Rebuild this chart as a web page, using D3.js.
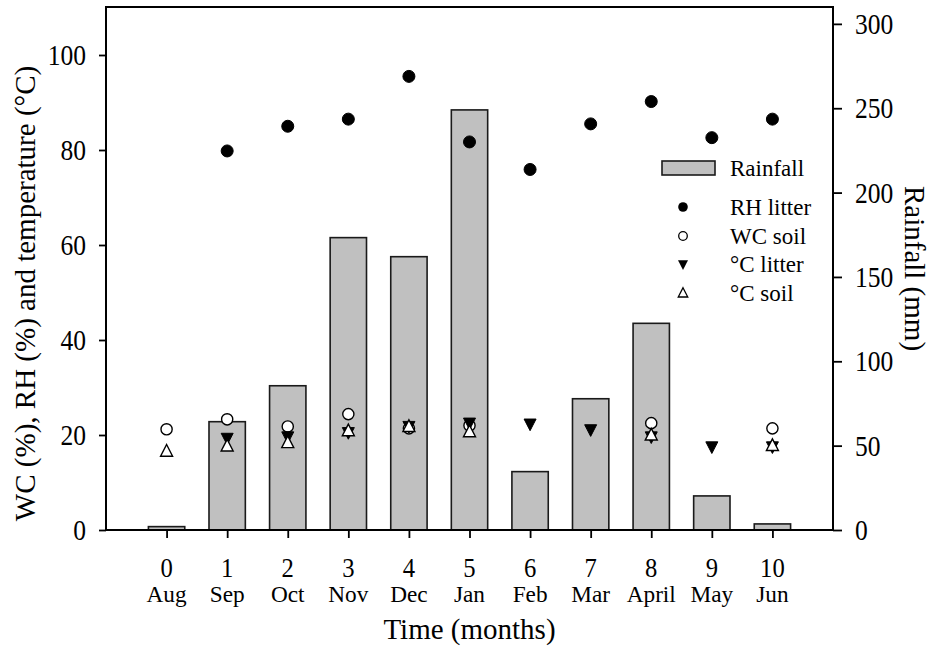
<!DOCTYPE html>
<html><head><meta charset="utf-8">
<script src="https://cdn.jsdelivr.net/npm/d3@7"></script>
<style>
body{margin:0;background:#fff}
text{font-family:"Liberation Serif","Times New Roman",serif;fill:#000}
</style>
</head><body>
<svg id="c" width="935" height="647"></svg>
<script>
// ---- data ----
const months = [0,1,2,3,4,5,6,7,8,9,10];
const monthNames = ["Aug","Sep","Oct","Nov","Dec","Jan","Feb","Mar","April","May","Jun"];
const rainfall = [2.0, 64.2, 85.5, 173.3, 162.0, 249.0, 34.6, 77.8, 122.5, 20.2, 3.6];
const rhLitter = [null, 79.8, 85.0, 86.5, 95.5, 81.7, 75.9, 85.5, 90.2, 82.6, 86.5];
const wcSoil = [21.2, 23.3, 21.8, 24.4, 21.4, 22.0, null, null, 22.5, null, 21.4];
const tempLitter = [null, 19.3, 19.6, 20.5, 21.8, 22.5, 22.3, 21.1, 19.6, 17.5, 17.5];
const tempSoil = [16.6, 17.7, 18.4, 20.9, 21.8, 20.7, null, null, 20.0, null, 17.8];
const leftTicks = [0,20,40,60,80,100];
const rightTicks = [0,50,100,150,200,250,300];
const legendLabels = ["Rainfall","RH litter","WC soil","\u00B0C litter","\u00B0C soil"];

// ---- layout ----
const L = 106, R = 833, T = 7, B = 530;
const svg = d3.select("#c");
const x = d3.scaleLinear().domain([-1, 11]).range([L, R]);
const yL = d3.scaleLinear().domain([0, 110]).range([B, 7.5]);
const yR = d3.scaleLinear().domain([0, 310]).range([B, T]);

const numScale = 0.88;

// bars
const bw = x(0.3) - x(0);
svg.append("g").selectAll("rect").data(months).join("rect")
  .attr("x", d => x(d) - bw)
  .attr("width", bw * 2)
  .attr("y", (d,i) => yR(rainfall[i]))
  .attr("height", (d,i) => B - yR(rainfall[i]))
  .attr("fill", "#c0c0c0")
  .attr("stroke", "#1a1a1a")
  .attr("stroke-width", 1.6);

// axes ticks
const axL = svg.append("g").attr("transform", `translate(${L},0)`)
  .call(d3.axisLeft(yL).tickValues(leftTicks).tickSize(7).tickSizeOuter(0).tickFormat(""));
const axR = svg.append("g").attr("transform", `translate(${R},0)`)
  .call(d3.axisRight(yR).tickValues(rightTicks).tickSize(9).tickSizeOuter(0).tickFormat(""));
const axB = svg.append("g").attr("transform", `translate(0,${B})`)
  .call(d3.axisBottom(x).tickValues(months).tickSize(8).tickSizeOuter(0).tickFormat(""));
[axL, axR, axB].forEach(a => {
  a.select(".domain").remove();
  a.selectAll("line").attr("stroke", "#000").attr("stroke-width", 1.8);
});

// frame
svg.append("rect").attr("x", L).attr("y", T).attr("width", R - L).attr("height", B - T)
  .attr("fill", "none").attr("stroke", "#000").attr("stroke-width", 2);

// tick labels
function scaledText(g, tx, ty, str, size, sx, anchor) {
  return g.append("text")
    .attr("transform", `translate(${tx},${ty}) scale(${sx},1)`)
    .attr("text-anchor", anchor)
    .attr("font-size", size)
    .text(str);
}
const lab = svg.append("g");
leftTicks.forEach(v => scaledText(lab, 86, yL(v) + 10, v, 29, numScale, "end"));
rightTicks.forEach(v => scaledText(lab, 855, yR(v) + 10, v, 29, numScale, "start"));
months.forEach((m, i) => {
  scaledText(lab, x(m), 577, m, 28, numScale, "middle");
  scaledText(lab, x(m), 602, monthNames[i], 24, 0.97, "middle");
});

// axis titles
svg.append("text").attr("x", (L + R) / 2).attr("y", 639).attr("text-anchor", "middle")
  .attr("font-size", 29).text("Time (months)");
svg.append("text").attr("transform", `translate(35,${(T + B) / 2 + 25}) rotate(-90)`)
  .attr("text-anchor", "middle").attr("font-size", 29)
  .text("WC (%), RH (%) and temperature (\u00B0C)");
svg.append("text").attr("transform", `translate(905,${(T + B) / 2}) rotate(90)`)
  .attr("text-anchor", "middle").attr("font-size", 29)
  .text("Rainfall (mm)");

// markers
const triUp = s => `M0,${-s*0.55}L${s/2},${s*0.42}L${-s/2},${s*0.42}Z`;
const triDown = s => `M0,${s*0.55}L${s/2},${-s*0.42}L${-s/2},${-s*0.42}Z`;
const mk = svg.append("g");
function pts(arr) { return months.map((m, i) => ({m, v: arr[i]})).filter(d => d.v != null); }

mk.append("g").selectAll("circle").data(pts(rhLitter)).join("circle")
  .attr("cx", d => x(d.m)).attr("cy", d => yL(d.v)).attr("r", 6)
  .attr("fill", "#000").attr("stroke", "#000").attr("stroke-width", 1);
mk.append("g").selectAll("circle").data(pts(wcSoil)).join("circle")
  .attr("cx", d => x(d.m)).attr("cy", d => yL(d.v)).attr("r", 5.6)
  .attr("fill", "#fff").attr("stroke", "#000").attr("stroke-width", 1.4);
mk.append("g").selectAll("path").data(pts(tempLitter)).join("path")
  .attr("transform", d => `translate(${x(d.m)},${yL(d.v)})`).attr("d", triDown(12))
  .attr("fill", "#000").attr("stroke", "#000").attr("stroke-width", 1);
mk.append("g").selectAll("path").data(pts(tempSoil)).join("path")
  .attr("transform", d => `translate(${x(d.m)},${yL(d.v)})`).attr("d", triUp(12))
  .attr("fill", "#fff").attr("stroke", "#000").attr("stroke-width", 1.4);

// legend
const lg = svg.append("g");
lg.append("rect").attr("x", 662).attr("y", 161).attr("width", 53).attr("height", 14)
  .attr("fill", "#c0c0c0").attr("stroke", "#1a1a1a").attr("stroke-width", 1.6);
lg.append("text").attr("x", 730).attr("y", 176).attr("font-size", 23).text(legendLabels[0]);
const rows = [207, 236, 264.5, 293];
const mx = 683;
lg.append("circle").attr("cx", mx).attr("cy", rows[0]).attr("r", 4.8).attr("fill", "#000");
lg.append("circle").attr("cx", mx).attr("cy", rows[1]).attr("r", 4.3).attr("fill", "#fff").attr("stroke", "#000").attr("stroke-width", 1.3);
lg.append("path").attr("transform", `translate(${mx},${rows[2]})`).attr("d", triDown(10)).attr("fill", "#000");
lg.append("path").attr("transform", `translate(${mx},${rows[3]})`).attr("d", triUp(9.5)).attr("fill", "#fff").attr("stroke", "#000").attr("stroke-width", 1.3);
rows.forEach((r, i) => lg.append("text").attr("x", 730).attr("y", r + 7.5).attr("font-size", 23).text(legendLabels[i + 1]));
</script>
</body></html>
